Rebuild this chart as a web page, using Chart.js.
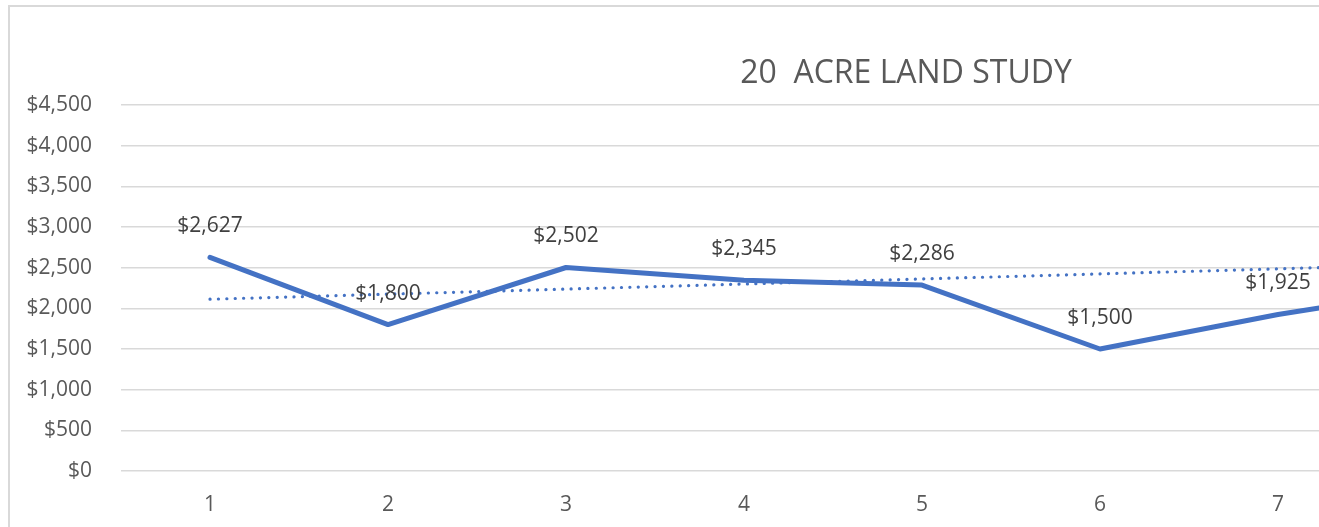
<!DOCTYPE html>
<html>
<head>
<meta charset="utf-8">
<title>20 ACRE LAND STUDY</title>
<script src="https://cdn.jsdelivr.net/npm/chart.js@4.4.1/dist/chart.umd.min.js"></script>
<style>
	html, body {margin: 0; padding: 0; background: #fff;}
	#frame {position: absolute; left: 0; top: 0; width: 1319px; height: 527px; overflow: hidden;}
	#box {position: absolute; left: 8px; top: 5px; width: 1792px; height: 540px;
		border-left: 2px solid #d9d9d9; border-top: 2px solid #d9d9d9;}
</style>
</head>
<body>
<div id="frame">
	<div id="box"><canvas id="landChart"></canvas></div>
</div>
<script>
// values (the chart is cut off on the right)
var categories = [1, 2, 3, 4, 5, 6, 7, 8];
var pricePerAcre = [2627, 1800, 2502, 2345, 2286, 1500, 1925, 2270];
// linear trendline, start and end
var trendX = [1, 8];
var trendY = [2112, 2548];
var yMax = 4500;
var yStep = 500;
var chartTitle = '20  ACRE LAND STUDY';

var FONT = "'Open Sans', 'Noto Sans', sans-serif";

function dollars(v) {
	return '$' + Number(v).toLocaleString('en-US');
}

//draw the value labels above each point
var valueLabels = {
	id: 'valueLabels',
	afterDatasetsDraw: function (chart) {
		var ctx = chart.ctx;
		var meta = chart.getDatasetMeta(0);
		ctx.save();
		ctx.font = '21px ' + FONT;
		ctx.fillStyle = '#404040';
		ctx.textAlign = 'center';
		ctx.textBaseline = 'middle';
		meta.data.forEach(function (pt, i) {
			ctx.fillText(dollars(pricePerAcre[i]), pt.x, pt.y - 31);
		});
		ctx.restore();
	}
};

new Chart('landChart', {
	type: 'line',
	data: {
		datasets: [{
			data: categories.map(function (c, i) { return {x: c, y: pricePerAcre[i]}; }),
			borderColor: '#4472c4',
			borderWidth: 5,
			borderCapStyle: 'round',
			borderJoinStyle: 'round',
			pointRadius: 0,
			tension: 0,
			fill: false
		}, {
			data: trendX.map(function (c, i) { return {x: c, y: trendY[i]}; }),
			borderColor: '#4472c4',
			borderWidth: 3.2,
			borderDash: [0.1, 8.3],
			borderCapStyle: 'round',
			pointRadius: 0,
			fill: false
		}]
	},
	options: {
		responsive: true,
		maintainAspectRatio: false,
		animation: false,
		events: [],
		layout: {padding: {left: 0, right: 0, top: 0, bottom: 16}},
		plugins: {
			legend: {display: false},
			tooltip: {enabled: false},
			title: {
				display: true,
				text: chartTitle,
				color: '#595959',
				font: {family: FONT, size: 32, weight: 'normal'},
				padding: {top: 48, bottom: 11.6}
			}
		},
		scales: {
			x: {
				type: 'linear',
				min: 0.5,
				max: 9.944,
				grid: {display: false, drawTicks: false},
				border: {display: false},
				afterBuildTicks: function (axis) {
					axis.ticks = categories.map(function (c) { return {value: c}; });
				},
				afterFit: function (axis) { axis.height = 60; },
				ticks: {
					color: '#595959',
					font: {family: FONT, size: 21},
					padding: 21,
					callback: function (v) { return String(v); }
				}
			},
			y: {
				min: 0,
				max: yMax,
				grid: {color: '#d9d9d9', lineWidth: 1.5, drawTicks: false},
				border: {display: false},
				afterFit: function (axis) { axis.width = 111; },
				ticks: {
					stepSize: yStep,
					color: '#595959',
					font: {family: FONT, size: 21},
					padding: 29,
					callback: function (v) { return dollars(v); }
				}
			}
		}
	},
	plugins: [valueLabels]
});
</script>
</body>
</html>
